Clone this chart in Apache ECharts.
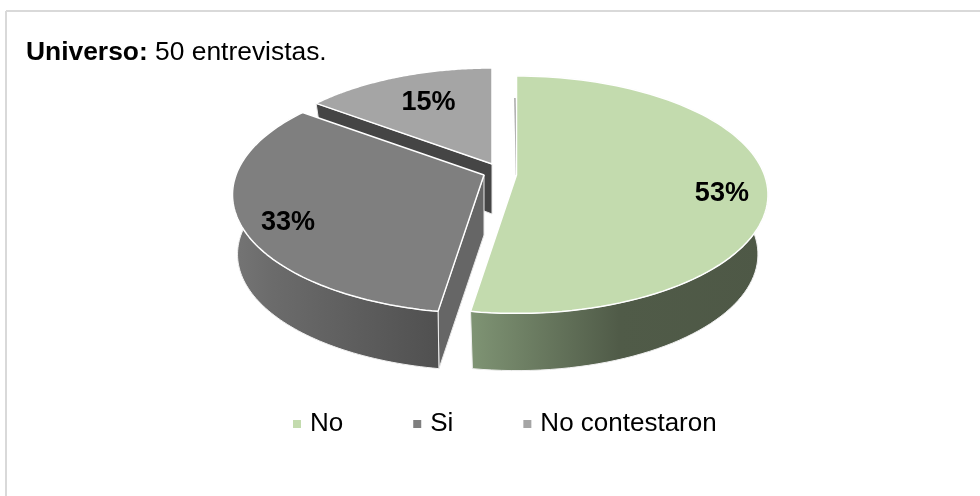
<!DOCTYPE html>
<html>
<head>
<meta charset="utf-8">
<style>html,body{margin:0;padding:0;background:#fff}#c{width:980px;height:496px}</style>
<script src="https://cdn.jsdelivr.net/npm/echarts@6/dist/echarts.min.js"></script>
</head>
<body>
<div id="c"></div>
<script>
const categories = ['No', 'Si', 'No contestaron'];
const values = [53, 33, 15];
const titleBold = 'Universo:';
const titleRest = ' 50 entrevistas.';

const total = values.reduce((a, b) => a + b, 0);
const FONT = '"Liberation Sans", Arial, sans-serif';
const RX = 248, RY = 115.4, PERSP = 0.166;
const looks = [
  { apex: [516.5, 175], scale: 1, depth: 60, sx: 0.96, sy: 0.98, top: '#c3dbae', z: 4, labelF: 0.82, labelOff: [0, 11],
    wall: [[0, '#7f9474'], [0.5, '#505b48'], [1, '#4e5846']], cut: null },
  { apex: [484, 175], scale: 1, depth: 60, sx: 0.98, sy: 0.98, top: '#7f7f7f', z: 3, labelF: 0.8, labelOff: [0, 10],
    wall: [[0, '#757575'], [0.2, '#6b6b6b'], [1, '#505050']], cut: '#666666' },
  { apex: [492, 164], scale: 0.97, depth: 50, sx: 0.96, sy: 1.06, top: '#a5a5a5', z: 2, labelF: 0.8, labelOff: [12, 8],
    wall: null, cut: '#454545' }
];

function project(look, thetaDeg, level) {
  const t = thetaDeg * Math.PI / 180;
  const u = Math.sin(t), v = -Math.cos(t);
  const w = 1 - PERSP * v;
  const dx = u * RX * look.scale / w, dy = v * RY * look.scale / w;
  const apex = look.apex;
  return level
    ? [apex[0] + dx * look.sx, apex[1] + dy * look.sy + look.depth]
    : [apex[0] + dx, apex[1] + dy];
}
function arc(look, a0, a1, level) {
  const pts = [], n = 96;
  for (let i = 0; i <= n; i++) pts.push(project(look, a0 + (a1 - a0) * i / n, level));
  return pts;
}

function makeRender(idx) {
  return function (params, api) {
    const look = looks[idx];
    const apex = look.apex;
    const before = values.slice(0, idx).reduce((a, b) => a + b, 0);
    const a0 = before / total * 360;
    const a1 = (before + api.value(0)) / total * 360;
    const children = [];
    if (look.cut) {
      const p = project(look, a0, 0), q = project(look, a0, 1);
      children.push({ type: 'polygon',
        shape: { points: [apex, p, q, [apex[0], apex[1] + look.depth]] },
        style: { fill: look.cut, stroke: '#e8e8e8', lineWidth: 1 } });
    }
    if (look.wall) {
      const top = arc(look, a0, a1, 0), bot = arc(look, a0, a1, 1).reverse();
      children.push({ type: 'polygon',
        shape: { points: top.concat(bot) },
        style: {
          fill: new echarts.graphic.LinearGradient(0, 0, 1, 0,
            look.wall.map(s => ({ offset: s[0], color: s[1] }))),
          stroke: '#f0f0f0', lineWidth: 1 } });
    }
    if (idx === 0) {
      children.push({ type: 'line',
        shape: { x1: apex[0] - 1.5, y1: apex[1] - 77, x2: apex[0], y2: apex[1] },
        style: { stroke: '#9a9a9a', lineWidth: 1.5 } });
    }
    children.push({ type: 'polygon',
      shape: { points: [apex].concat(arc(look, a0, a1, 0)) },
      style: { fill: look.top, stroke: '#ffffff', lineWidth: 1.5, lineJoin: 'bevel' } });
    const mid = project(look, (a0 + a1) / 2, 0);
    const lx = apex[0] + (mid[0] - apex[0]) * look.labelF + look.labelOff[0];
    const ly = apex[1] + (mid[1] - apex[1]) * look.labelF + look.labelOff[1];
    children.push({ type: 'text',
      style: { x: lx, y: ly, text: api.value(0) + '%', fill: '#000', align: 'center',
        verticalAlign: 'middle', font: 'bold 27px ' + FONT } });
    return { type: 'group', children: children };
  };
}

const chart = echarts.init(document.getElementById('c'), null, { renderer: 'canvas' });
chart.setOption({
  animation: false,
  backgroundColor: '#ffffff',
  title: {
    left: 26, top: 40, padding: 0,
    text: '{b|' + titleBold + '}{r|' + titleRest + '}',
    textStyle: { rich: {
      b: { fontFamily: FONT, fontSize: 26.4, fontWeight: 'bold', color: '#000' },
      r: { fontFamily: FONT, fontSize: 26.4, fontWeight: 'normal', color: '#000' }
    } }
  },
  legend: {
    left: 293, top: 411, padding: 0, icon: 'rect', itemWidth: 8, itemHeight: 8, itemGap: 70,
    selectedMode: false,
    data: categories,
    textStyle: { fontFamily: FONT, fontSize: 26, color: '#000', padding: [0, 0, 0, 4] }
  },
  graphic: [
    { type: 'line', z: -10, silent: true, shape: { x1: 6, y1: 11, x2: 980, y2: 11 },
      style: { stroke: '#d9d9d9', lineWidth: 2 } },
    { type: 'line', z: -10, silent: true, shape: { x1: 6, y1: 11, x2: 6, y2: 496 },
      style: { stroke: '#d9d9d9', lineWidth: 2 } }
  ],
  series: categories.map((name, i) => ({
    type: 'custom', name: name, coordinateSystem: 'none', z: looks[i].z,
    itemStyle: { color: looks[i].top },
    renderItem: makeRender(i),
    data: [[values[i]]]
  }))
});
</script>
</body>
</html>
